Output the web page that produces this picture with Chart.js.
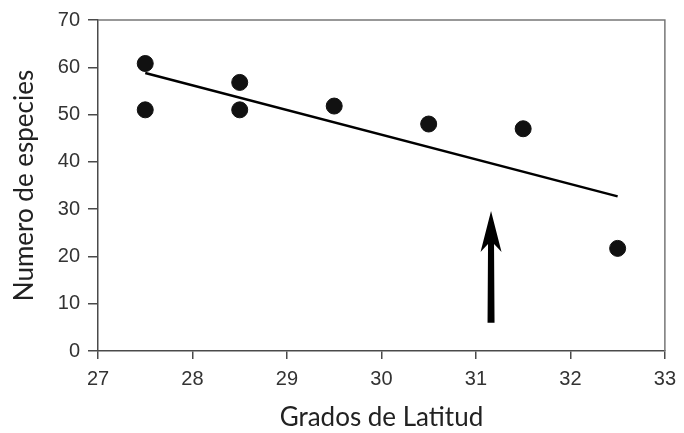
<!DOCTYPE html>
<html>
<head>
<meta charset="utf-8">
<script src="https://cdn.jsdelivr.net/npm/chart.js@4"></script>
<style>
  body { margin: 0; background: #fff; }
  #wrap { width: 684px; height: 433px; }
</style>
</head>
<body>
<div id="wrap"><canvas id="chart" width="684" height="433"></canvas></div>
<script>
// Datos
const latitud = [27.5, 27.5, 28.5, 28.5, 29.5, 30.5, 31.5, 32.5];
const especies = [60.8, 51, 56.8, 51, 51.8, 48, 47, 21.7];
// Linea de tendencia (extremos)
const trendX = [27.5, 32.5];
const trendY = [58.8, 32.7];
// Flecha
const arrowX = 31.16;
const arrowFrom = 6;
const arrowTo = 29.6;
// Ejes
const xTicks = [27, 28, 29, 30, 31, 32, 33];
const yTicks = [0, 10, 20, 30, 40, 50, 60, 70];

const axisColor = '#4a4a4a';

// marco superior/derecho y flecha
const extras = {
    id: 'extras',
    afterDatasetsDraw(chart) {
        const { ctx, chartArea: a, scales } = chart;
        ctx.save();
        ctx.strokeStyle = '#777';
        ctx.lineWidth = 1.5;
        ctx.beginPath();
        ctx.moveTo(a.left, a.top);
        ctx.lineTo(a.right, a.top);
        ctx.lineTo(a.right, a.bottom);
        ctx.stroke();

        const x = scales.x.getPixelForValue(arrowX);
        const yTip = scales.y.getPixelForValue(arrowTo);
        const yBot = scales.y.getPixelForValue(arrowFrom);
        ctx.fillStyle = '#000';
        ctx.beginPath();
        ctx.moveTo(x, yTip);
        ctx.lineTo(x + 10.5, yTip + 41);
        ctx.lineTo(x + 3, yTip + 33);
        ctx.lineTo(x + 3.5, yBot);
        ctx.lineTo(x - 3.5, yBot);
        ctx.lineTo(x - 3, yTip + 33);
        ctx.lineTo(x - 10.5, yTip + 41);
        ctx.closePath();
        ctx.fill();
        ctx.restore();
    }
};

new Chart(document.getElementById('chart'), {
    type: 'scatter',
    data: {
        datasets: [
            {
                type: 'line',
                data: trendX.map((x, i) => ({ x, y: trendY[i] })),
                borderColor: '#000',
                borderWidth: 2.5,
                pointRadius: 0,
                fill: false
            },
            {
                data: latitud.map((x, i) => ({ x, y: especies[i] })),
                backgroundColor: '#111',
                borderColor: '#111',
                pointRadius: 8,
                pointHoverRadius: 8
            }
        ]
    },
    options: {
        responsive: false,
        devicePixelRatio: 1,
        animation: false,
        layout: { padding: { left: 0, right: 3, top: 9, bottom: 0 } },
        plugins: { legend: { display: false }, tooltip: { enabled: false } },
        scales: {
            x: {
                type: 'linear',
                min: 27, max: 33,
                afterBuildTicks: s => { s.ticks = xTicks.map(v => ({ value: v })); },
                afterFit: s => { s.height = 82; },
                grid: { drawOnChartArea: false, drawTicks: true, tickLength: 8, color: axisColor, lineWidth: 1.5 },
                border: { color: axisColor, width: 1.5 },
                ticks: { color: '#333', font: { family: 'Liberation Sans', size: 20 }, padding: 8 },
                title: { display: true, text: 'Grados de Latitud', color: '#222', font: { family: 'Lato', size: 26 }, padding: { bottom: 0 } }
            },
            y: {
                min: 0, max: 70,
                afterBuildTicks: s => { s.ticks = yTicks.map(v => ({ value: v })); },
                afterFit: s => { s.width = 98; },
                grid: { drawOnChartArea: false, drawTicks: true, tickLength: 10, color: axisColor, lineWidth: 1.5 },
                border: { color: axisColor, width: 1.5 },
                ticks: { color: '#333', font: { family: 'Liberation Sans', size: 20 }, padding: 8 },
                title: { display: true, text: 'Numero de especies', color: '#222', font: { family: 'Lato', size: 26 }, padding: { top: 9 } }
            }
        }
    },
    plugins: [extras]
});
</script>
</body>
</html>
